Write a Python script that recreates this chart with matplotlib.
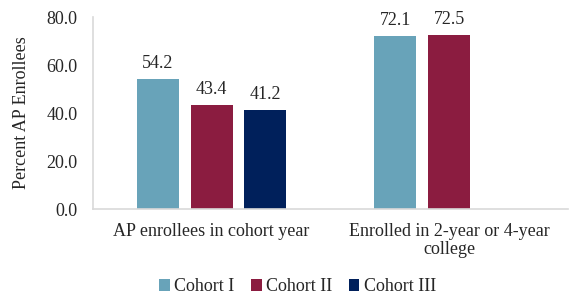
import matplotlib
matplotlib.use("Agg")
import matplotlib.pyplot as plt
import numpy as np

categories = ["AP enrollees in cohort year", "Enrolled in 2-year or 4-year\ncollege"]
series_names = ["Cohort I", "Cohort II", "Cohort III"]
cohort1 = [54.2, 72.1]
cohort2 = [43.4, 72.5]
cohort3 = [41.2, None]
colors = ["#68a3b9", "#8b1c40", "#00205b"]
yticks = [0, 20, 40, 60, 80]

plt.rcParams['font.family'] = ['Liberation Serif', 'DejaVu Serif']
FS = 13

fig = plt.figure(figsize=(5.7, 2.95), dpi=100)
ax = fig.add_axes([0.163, 0.2915, 0.833, 0.6505])

x = np.arange(len(categories))
width = 0.176
step = 0.226
allseries = [cohort1, cohort2, cohort3]
for i, (name, vals, c) in enumerate(zip(series_names, allseries, colors)):
    xs = [xi + (i - 1) * step for xi, v in zip(x, vals) if v is not None]
    vs = [v for v in vals if v is not None]
    bars = ax.bar(xs, vs, width=width, color=c, label=name)
    for b, v in zip(bars, vs):
        ax.text(b.get_x() + b.get_width() / 2, v + 3, f"{v:.1f}",
                ha="center", va="bottom", fontsize=FS, color="#262626")

ax.set_xlim(-0.5, 1.5)
ax.set_ylim(0, 80)
ax.set_yticks(yticks)
ax.set_yticklabels([f"{t:.1f}" for t in yticks], fontsize=FS)
ax.set_xticks(x)
ax.set_xticklabels(categories, fontsize=FS, linespacing=1.1)
ax.tick_params(axis="both", length=0, colors="#262626")
ax.tick_params(axis="y", pad=11)
ax.tick_params(axis="x", pad=10)
for s in ["top", "right"]:
    ax.spines[s].set_visible(False)
for s in ["left", "bottom"]:
    ax.spines[s].set_color("#d9d9d9")
    ax.spines[s].set_linewidth(1.2)
ax.set_ylabel("Percent AP Enrollees", fontsize=FS, color="#262626", labelpad=12)

leg = fig.legend(loc="center", bbox_to_anchor=(0.522, 0.028), ncol=3, frameon=False,
                 fontsize=FS, handlelength=0.6, handleheight=0.6, handletextpad=0.25,
                 columnspacing=0.9)
for t in leg.get_texts():
    t.set_color("#262626")

fig.savefig("out.png", dpi=100)
